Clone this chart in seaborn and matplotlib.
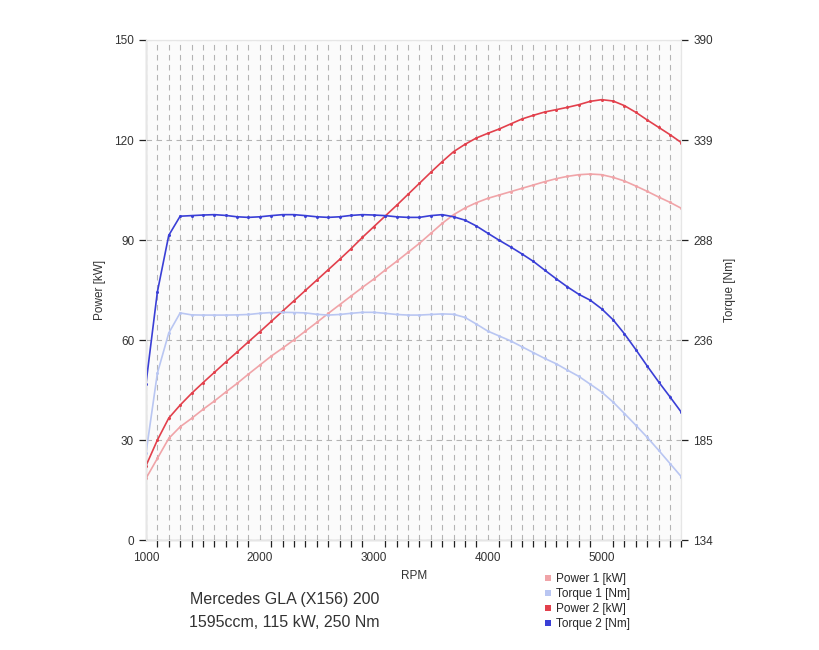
import numpy as np
import pandas as pd
import seaborn as sns
import matplotlib.pyplot as plt
from matplotlib.lines import Line2D
from matplotlib.ticker import MultipleLocator

rpm = list(range(1000, 5800, 100))

power1 = [18.5, 24.5, 30.5, 34.0, 36.5, 39.2, 41.7, 44.4, 47.0, 49.8,
          52.5, 55.2, 57.6, 60.1, 62.7, 65.3, 68.0, 70.6, 73.2, 75.8,
          78.3, 81.0, 83.6, 86.3, 89.0, 92.0, 95.0, 97.6, 99.6, 101.2,
          102.5, 103.5, 104.5, 105.5, 106.5, 107.5, 108.4, 109.1, 109.6, 109.8,
          109.6, 108.8, 107.7, 106.2, 104.6, 102.9, 101.3, 99.5]
torque1 = [178.4, 219.4, 240.0, 250.3, 249.3, 249.2, 249.2, 249.2, 249.3, 249.5,
           250.1, 250.5, 250.6, 250.5, 250.3, 249.6, 249.2, 249.5, 250.1, 250.6,
           250.6, 250.1, 249.5, 249.2, 249.2, 249.5, 249.8, 249.6, 248.0, 244.6,
           241.0, 238.5, 236.0, 233.0, 230.0, 227.0, 224.3, 221.0, 217.8, 213.8,
           209.8, 204.7, 198.8, 192.8, 186.6, 180.0, 173.2, 166.4]
power2 = [22.3, 30.0, 36.6, 40.5, 44.0, 47.2, 50.3, 53.4, 56.4, 59.5,
          62.5, 65.6, 68.7, 71.8, 74.9, 78.0, 81.1, 84.2, 87.4, 90.8,
          94.0, 97.2, 100.4, 103.7, 107.0, 110.3, 113.5, 116.5, 118.7, 120.6,
          122.0, 123.3, 124.8, 126.3, 127.4, 128.4, 129.1, 129.8, 130.6, 131.6,
          132.1, 131.7, 130.3, 128.3, 126.0, 123.8, 121.6, 119.2]
torque2 = [214.0, 261.0, 290.0, 299.8, 300.1, 300.4, 300.6, 300.2, 299.5, 299.2,
           299.5, 300.1, 300.6, 300.6, 300.1, 299.5, 299.2, 299.5, 300.2, 300.6,
           300.4, 300.1, 299.5, 299.2, 299.2, 300.1, 300.6, 299.5, 297.8, 294.8,
           291.1, 287.5, 284.1, 280.5, 276.7, 272.2, 267.8, 263.6, 259.8, 256.8,
           252.4, 246.8, 239.6, 231.5, 223.1, 215.0, 207.3, 199.4]

torque_ticks = ["134", "185", "236", "288", "339", "390"]
series_names = ["Power 1 [kW]", "Torque 1 [Nm]", "Power 2 [kW]", "Torque 2 [Nm]"]
colors = ["#f0a4a8", "#b9c6f2", "#e2404c", "#3a3fd6"]

df = pd.DataFrame({"rpm": rpm, "p1": power1, "t1": torque1,
                   "p2": power2, "t2": torque2})

sns.set_style("white")
plt.rcParams["font.family"] = ["Liberation Sans", "DejaVu Sans"]

fig = plt.figure(figsize=(8.2, 6.5), dpi=100)
ax = fig.add_axes([0.178, 0.169, 0.653, 0.7695])
ax.set_facecolor("#fbfbfb")
ax2 = ax.twinx()

mk = dict(marker="o", markersize=2.2, markeredgewidth=0, linewidth=1.2)
sns.lineplot(data=df, x="rpm", y="p1", ax=ax, color=colors[0], **mk)
sns.lineplot(data=df, x="rpm", y="p2", ax=ax, color=colors[2], **mk)
sns.lineplot(data=df, x="rpm", y="t1", ax=ax2, color=colors[1], **mk)
sns.lineplot(data=df, x="rpm", y="t2", ax=ax2, color=colors[3], **mk)

ax.set_xlim(1000, 5700)
ax.set_ylim(0, 150)
ax2.set_ylim(134, 390)
ax.set_yticks([0, 30, 60, 90, 120, 150])
ax2.set_yticks(np.linspace(134, 390, 6))
ax2.set_yticklabels(torque_ticks)
ax.set_xticks([1000, 2000, 3000, 4000, 5000])
ax.xaxis.set_minor_locator(MultipleLocator(100))

ax.grid(False)
ax2.grid(False)
ax.grid(True, which="minor", axis="x", color="#b4b4b4", linestyle=(0, (5, 4)), linewidth=0.8)
ax.grid(True, which="major", axis="x", color="#b4b4b4", linestyle=(0, (5, 4)), linewidth=0.8)
ax.grid(True, which="major", axis="y", color="#b4b4b4", linestyle=(0, (5, 4)), linewidth=0.8)
ax.set_axisbelow(True)

for a in (ax, ax2):
    for s in a.spines.values():
        s.set_color("#e6e6e6")
        s.set_linewidth(0.8)
ax.spines["left"].set_color("#222222")
ax.spines["bottom"].set_color("#222222")

tick_kw = dict(direction="out", color="#222222", labelsize=8.5, labelcolor="#333333")
ax.tick_params(axis="both", which="major", length=5, width=0.9, **tick_kw)
ax.tick_params(axis="x", which="minor", length=5, width=0.9, bottom=True, color="#222222")
ax2.tick_params(axis="y", which="major", length=5, width=0.9, right=True, **tick_kw)

ax.set_xlabel("RPM", fontsize=8.5, color="#333333", labelpad=4)
ax.set_ylabel("Power [kW]", fontsize=8.5, color="#333333", labelpad=6)
ax2.set_ylabel("Torque [Nm]", fontsize=8.5, color="#333333", labelpad=8)

handles = [Line2D([], [], linestyle="none", marker="s", markersize=5,
                  markerfacecolor=c, markeredgewidth=0) for c in colors]
fig.legend(handles, series_names, loc="upper left", bbox_to_anchor=(0.655, 0.125),
           frameon=False, fontsize=8.5, handletextpad=0.2, labelspacing=0.25,
           handlelength=1.0, borderaxespad=0)

fig.text(0.347, 0.077, "Mercedes GLA (X156) 200", ha="center", va="center",
         fontsize=11.5, color="#333333")
fig.text(0.347, 0.043, "1595ccm, 115 kW, 250 Nm", ha="center", va="center",
         fontsize=11.5, color="#333333")

fig.savefig("out.png", dpi=100)
